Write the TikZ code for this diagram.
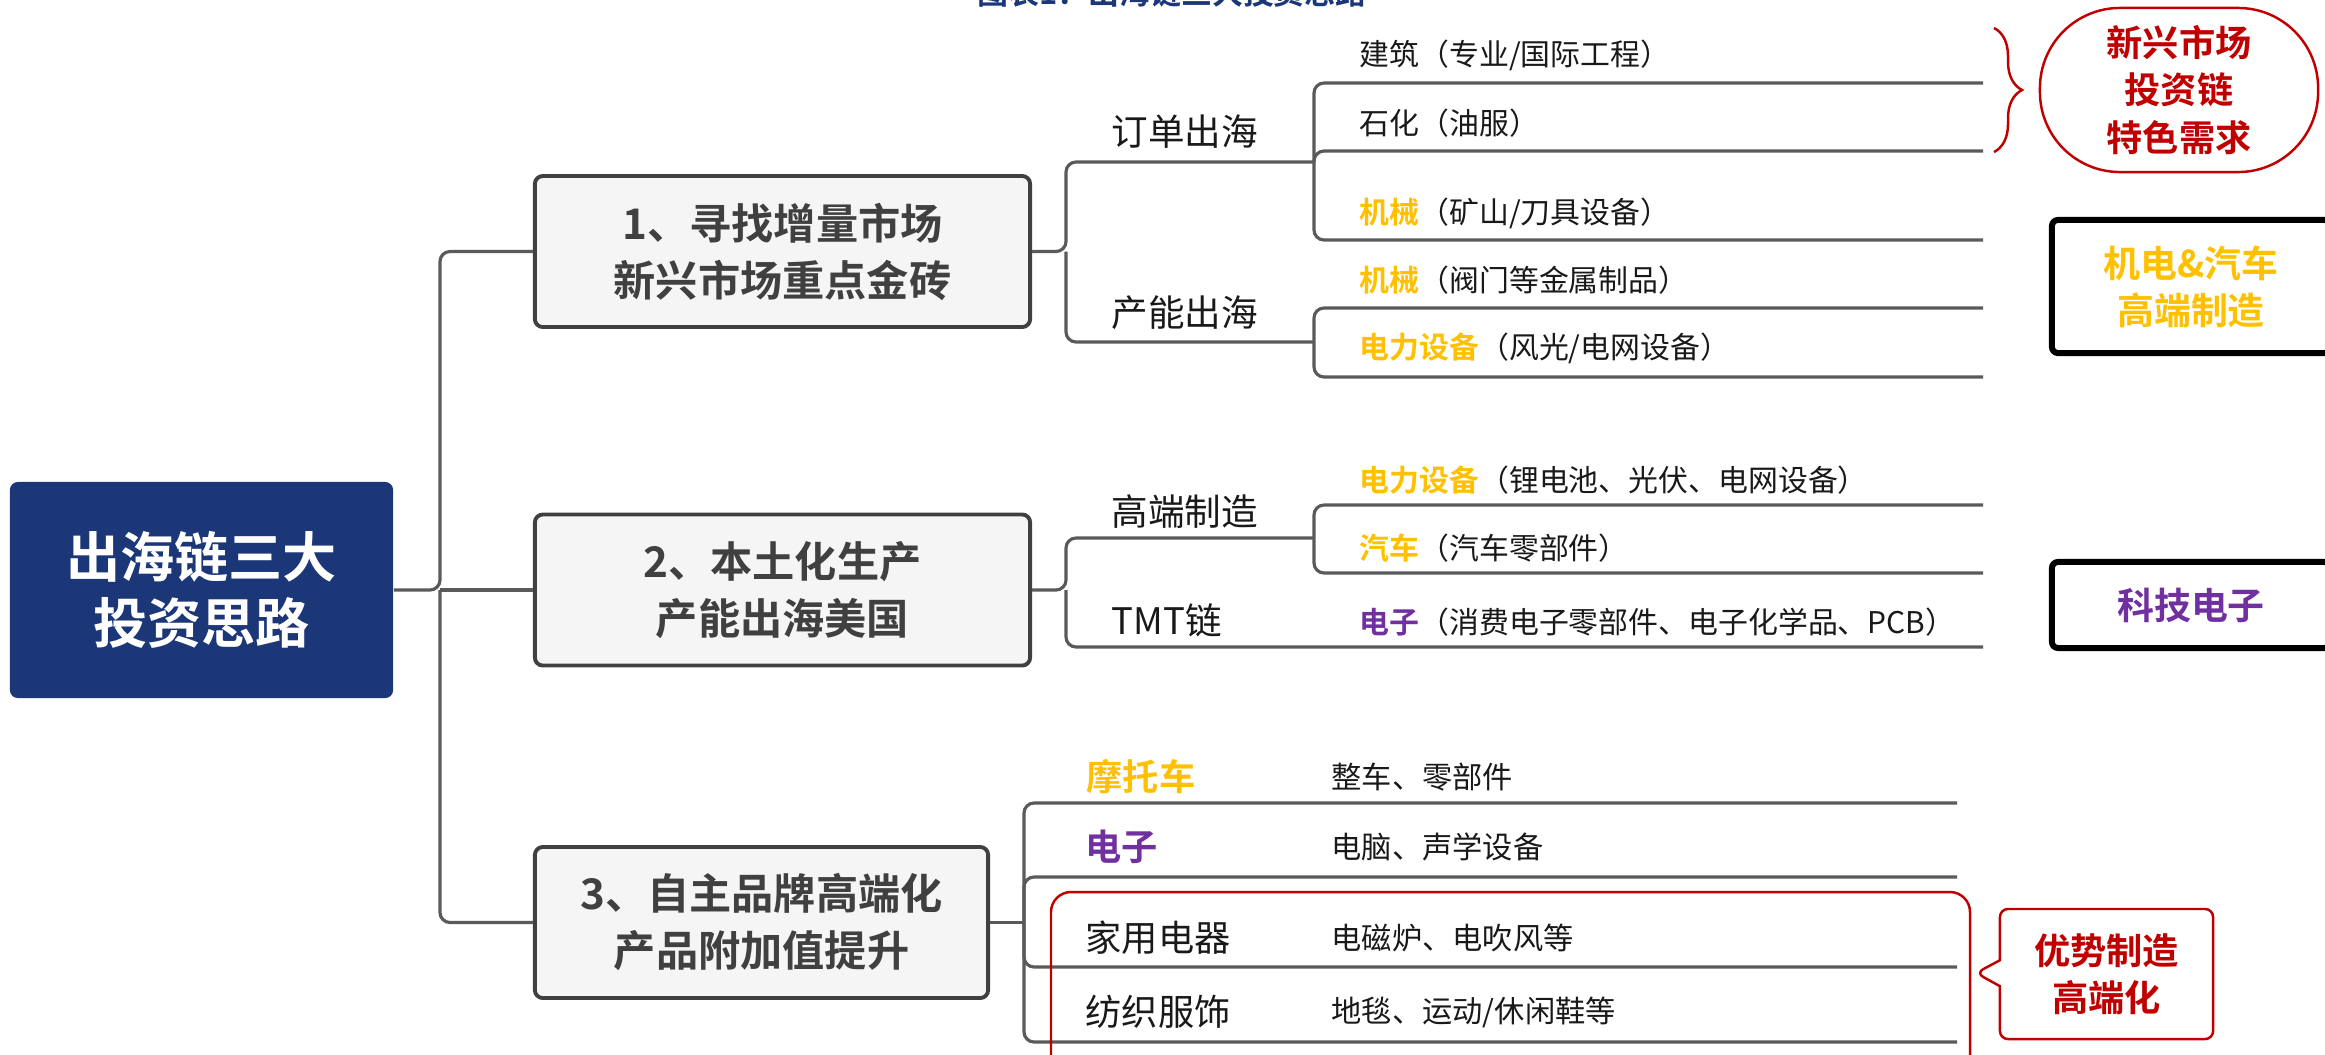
\documentclass[tikz,border=0pt]{standalone}
\usepackage{fontspec}
\setmainfont{Noto Sans CJK SC}[BoldFont={Noto Sans CJK SC Bold}]
\usepackage{tikz}
\usetikzlibrary{positioning, calc, decorations.pathreplacing, shapes.callouts}
\definecolor{cNavy}{RGB}{27,55,120}
\definecolor{cGold}{RGB}{255,192,0}
\definecolor{cPurple}{RGB}{112,48,160}
\definecolor{cRed}{RGB}{192,0,0}
\definecolor{cLine}{RGB}{90,90,90}
\definecolor{cBox}{RGB}{64,64,64}
\definecolor{cInk}{RGB}{25,25,25}
\tikzset{
	rootbox/.style ={rectangle, rounded corners=0.08cm, fill=cNavy, text=white, align=center, minimum width=3.83cm, minimum height=2.16cm, font=\fontsize{15.4}{18.8}\selectfont\bfseries},
	topicbox/.style={rectangle, rounded corners=0.08cm, fill=black!4, draw=cBox, line width=1.1pt, text=cBox, align=center, minimum height=1.51cm, font=\fontsize{12}{16.2}\selectfont\bfseries},
	branch/.style  ={draw=cLine, line width=0.9pt, rounded corners=0.1cm},
	midlbl/.style  ={anchor=west, inner sep=0pt, font=\fontsize{10.4}{12}\selectfont},
	leaflbl/.style ={anchor=west, inner sep=0pt, font=\fontsize{8.5}{10}\selectfont},
	grplbl/.style  ={anchor=west, inner sep=0pt, font=\fontsize{10.3}{12}\selectfont},
	grpdet/.style  ={anchor=west, inner sep=0pt, font=\fontsize{8.6}{10}\selectfont},
	tagbox/.style  ={rectangle, rounded corners=0.06cm, draw=black, line width=1.7pt, align=center, minimum width=2.78cm, font=\fontsize{10.5}{13.4}\selectfont\bfseries},
	redline/.style ={draw=cRed, line width=0.7pt},
	titletxt/.style={anchor=base, inner sep=0pt, text=cNavy, font=\fontsize{8.8}{10}\selectfont\bfseries},
}

\begin{document}
\begin{tikzpicture}[x=0.01cm, y=-0.01cm, every node/.style={text=cInk}]
	\useasboundingbox (0,0) rectangle (2325,1054);
	% title, cut by the page edge
	\node[titletxt] (title) at (1172,4) {图表1：出海链三大投资思路};

	\node[rootbox] (root) at (201.5,590) {出海链三大\\投资思路};
	\node[topicbox, minimum width=4.95cm] (t1) at (782.5,251.5) {1、寻找增量市场\\新兴市场重点金砖};
	\node[topicbox, minimum width=4.95cm] (t2) at (782.5,590) {2、本土化生产\\产能出海美国};
	\node[topicbox, minimum width=4.53cm] (t3) at (761.5,922.5) {3、自主品牌高端化\\产品附加值提升};

	\coordinate (trunk) at (440,590);
	\draw[branch] (root.east) -- (trunk) |- (t1.west);
	\draw[branch] (trunk) |- (t3.west);
	\draw[branch] (trunk) -- (t2.west);

	% branch 1
	\coordinate (g1) at (1066,251.5);
	\coordinate (ordEnd) at (1314,162);
	\coordinate (capEnd) at (1314,342);
	\draw[branch] (t1.east) -- (g1) |- (ordEnd);
	\draw[branch] (g1) |- (capEnd);
	\node[midlbl] (ordOut) at (1111,132) {订单出海};
	\node[midlbl] (capOut) at (1111,313) {产能出海};
	\foreach \n/\y in {uBuild/83, uPetro/151, uMachA/240} {
		\coordinate (\n) at (1983,\y);
		\draw[branch] (ordEnd) |- (\n);
	}
	\foreach \n/\y in {uMachB/308, uPowA/377} {
		\coordinate (\n) at (1983,\y);
		\draw[branch] (capEnd) |- (\n);
	}
	\node[leaflbl] (lBuild) at (1359,55) {建筑（专业/国际工程）};
	\node[leaflbl] (lPetro) at (1359,123) {石化（油服）};
	\node[leaflbl] (lMachA) at (1359,213) {\textcolor{cGold}{\bfseries 机械}（矿山/刀具设备）};
	\node[leaflbl] (lMachB) at (1359,280) {\textcolor{cGold}{\bfseries 机械}（阀门等金属制品）};
	\node[leaflbl] (lPowA) at (1359,348) {\textcolor{cGold}{\bfseries 电力设备}（风光/电网设备）};

	% branch 2
	\coordinate (g2) at (1066,590);
	\coordinate (hiEnd) at (1314,538);
	\coordinate (tmtEnd) at (1983,647);
	\draw[branch] (t2.east) -- (g2) |- (hiEnd);
	\draw[branch] (g2) |- (tmtEnd);
	\node[midlbl] (hiMfg) at (1111,512) {高端制造};
	\node[midlbl] (tmt) at (1111,620) {TMT链};
	\foreach \n/\y in {uPowB/505, uAuto/573} {
		\coordinate (\n) at (1983,\y);
		\draw[branch] (hiEnd) |- (\n);
	}
	\node[leaflbl] (lPowB) at (1359,480) {\textcolor{cGold}{\bfseries 电力设备}（锂电池、光伏、电网设备）};
	\node[leaflbl] (lAuto) at (1359,548) {\textcolor{cGold}{\bfseries 汽车}（汽车零部件）};
	\node[leaflbl] (lElec) at (1359,622) {\textcolor{cPurple}{\bfseries 电子}（消费电子零部件、电子化学品、PCB）};

	% branch 3
	\coordinate (g3) at (1024,922.5);
	\draw[branch] (t3.east) -- (g3);
	\foreach \n/\y in {uMoto/803, uElec/877, uHome/967, uTex/1042} {
		\coordinate (\n) at (1957,\y);
		\draw[branch] (g3) |- (\n);
	}
	\node[grplbl] (moto) at (1086,777) {\textcolor{cGold}{\bfseries 摩托车}};
	\node[grplbl] (elec) at (1085,847) {\textcolor{cPurple}{\bfseries 电子}};
	\node[grplbl] (home) at (1085,938) {家用电器};
	\node[grplbl] (tex) at (1085,1012) {纺织服饰};
	\node[grpdet] (dMoto) at (1331,777) {整车、零部件};
	\node[grpdet] (dElec) at (1331,847) {电脑、声学设备};
	\node[grpdet] (dHome) at (1331,938) {电磁炉、电吹风等};
	\node[grpdet] (dTex) at (1331,1012) {地毯、运动/休闲鞋等};

	% tags on the right
	\draw[redline, decorate, decoration={brace, amplitude=0.28cm}] (1994,28) -- (1994,152);
	\node[redline, rounded corners=0.8cm, minimum width=2.78cm, minimum height=1.64cm, align=center, text=cRed, font=\fontsize{10.3}{13.4}\selectfont\bfseries] (emerg) at (2179,90) {新兴市场\\投资链\\特色需求};
	\node[tagbox, text=cGold, minimum height=1.33cm] (mech) at (2191,286.5) {机电\&汽车\\高端制造};
	\node[tagbox, text=cPurple, minimum height=0.86cm] (tech) at (2191,605) {科技电子};
	\draw[redline, rounded corners=0.2cm] (1051,892) rectangle (1970,1075);
	\node[redline, rectangle callout, callout absolute pointer={(1976,973)}, callout pointer width=0.26cm, rounded corners=0.08cm, minimum width=2.13cm, minimum height=1.30cm, align=center, text=cRed, font=\fontsize{10.3}{13.4}\selectfont\bfseries] (adv) at (2106.5,974) {优势制造\\高端化};
\end{tikzpicture}
\end{document}
